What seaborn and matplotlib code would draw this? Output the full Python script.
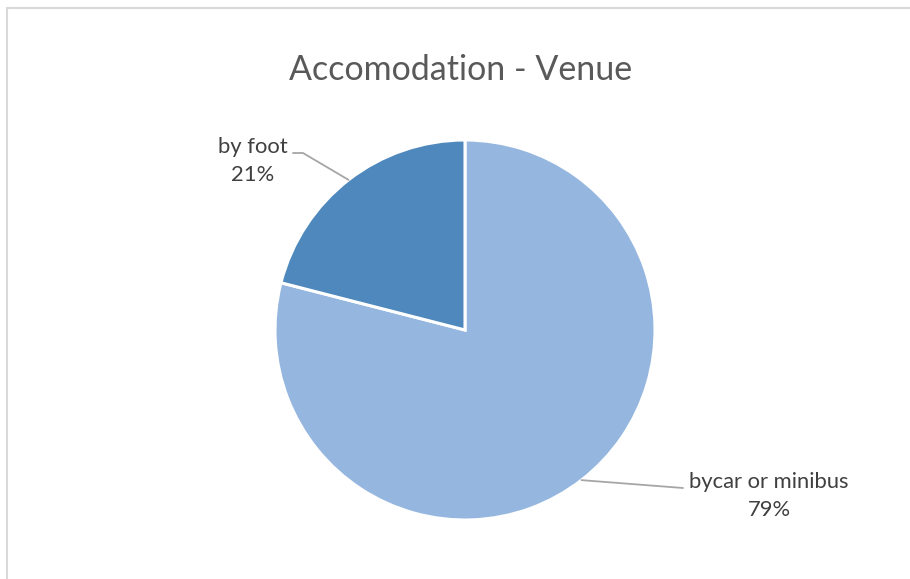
import numpy as np
import matplotlib
matplotlib.use("Agg")
import matplotlib.pyplot as plt
from matplotlib.lines import Line2D
import seaborn as sns

# Dados
categorias = ["bycar or minibus", "by foot"]
valores = [79, 21]
percentuais = ["79%", "21%"]
cores = ["#95B7DF", "#4E88BC"]

sns.set_theme(style="white")
plt.rcParams['font.family'] = ['Lato', 'DejaVu Sans']

W, H = 910, 579
fig = plt.figure(figsize=(W / 100, H / 100), dpi=100)

# pizza centrada em (465, 330) px com raio 190 px
cx, cy, r = 465, 330, 190
ax = fig.add_axes([(cx - r) / W, (H - cy - r) / H, 2 * r / W, 2 * r / H])

wedges, _ = ax.pie(valores, colors=cores, startangle=90, counterclock=False,
                   radius=1, wedgeprops=dict(edgecolor="white", linewidth=2.2))
ax.set_xlim(-1, 1)
ax.set_ylim(-1, 1)
ax.set_aspect("equal")
ax.axis("off")

def px(x, y):
    # pixel -> coordenadas do eixo da pizza
    return (x - cx) / r, (cy - y) / r

def borda(w):
    ang = np.deg2rad((w.theta1 + w.theta2) / 2)
    return np.cos(ang), np.sin(ang)

cor_linha = "#A6A6A6"
cor_texto = "#404040"

# rótulo "by foot"
bx, by = borda(wedges[1])
e = px(303, 153)
f = px(293, 153)
ax.plot([bx, e[0], f[0]], [by, e[1], f[1]], color=cor_linha, lw=1.3, clip_on=False)
t = px(253, 161)
ax.text(t[0], t[1], f"{categorias[1]}\n{percentuais[1]}", ha="center", va="center",
        fontsize=15.8, color=cor_texto, linespacing=1.45)

# rótulo "bycar or minibus"
bx, by = borda(wedges[0])
f = px(683, 488)
ax.plot([bx, f[0]], [by, f[1]], color=cor_linha, lw=1.3, clip_on=False)
t = px(769, 496)
ax.text(t[0], t[1], f"{categorias[0]}\n{percentuais[0]}", ha="center", va="center",
        fontsize=15.8, color=cor_texto, linespacing=1.45)

# título
fig.text(461 / W, 1 - 70 / H, "Accomodation - Venue", ha="center", va="center",
         fontsize=24.5, color="#595959")

# moldura do gráfico (cortada à direita e embaixo)
fig.add_artist(Line2D([7 / W, 7 / W], [0, 1 - 8 / H], color="#D9D9D9", lw=1.5))
fig.add_artist(Line2D([7 / W, 1], [1 - 8 / H, 1 - 8 / H], color="#D9D9D9", lw=1.5))

fig.savefig("out.png", dpi=100)
